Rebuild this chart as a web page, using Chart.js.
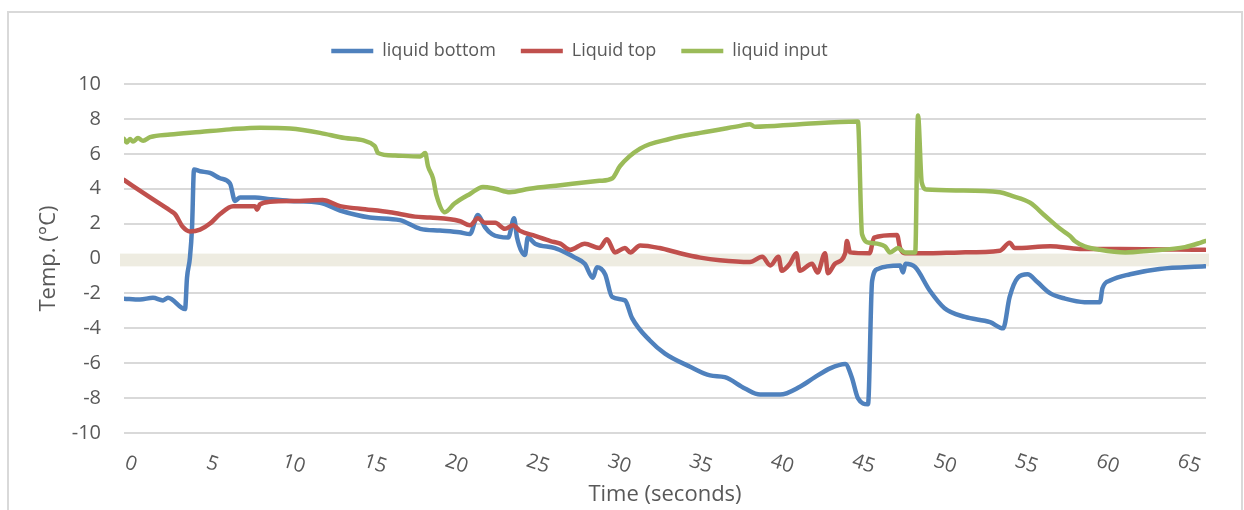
<!DOCTYPE html>
<html>
<head>
<meta charset="utf-8">
<script src="https://cdn.jsdelivr.net/npm/chart.js@4.4.1/dist/chart.umd.min.js"></script>
<style>
  html, body { margin: 0; padding: 0; background: #fff; }
  canvas { display: block; }
</style>
</head>
<body>
<canvas id="temps" width="1244" height="510"></canvas>
<script>
// time (s) and temperature (°C)
const bottomTime = [0, 0.98, 1.78, 2.4, 2.7, 3.75, 3.87, 4.05, 4.18, 4.3, 4.67, 5.28, 5.9, 6.51, 6.82, 7.13, 8.05, 8.97, 10.2, 12.04, 13.27, 15.1, 16.95, 18.2, 19.4, 20.6, 21.25, 21.74, 22.17, 22.6, 23.6, 23.96, 24.14, 24.63, 24.8, 25.25, 26.47, 27.1, 27.7, 28.3, 28.8, 29.05, 29.55, 29.98, 30.77, 31.2, 32.3, 33.23, 34.77, 36.0, 36.9, 38.14, 39.07, 40.3, 41.52, 42.44, 43.37, 44.3, 44.7, 45.08, 45.7, 45.95, 46.3, 47.67, 47.85, 48.0, 48.6, 49.5, 50.4, 51.66, 53.2, 54.0, 54.4, 54.9, 55.5, 56.1, 56.9, 57.8, 59.0, 59.95, 60.1, 60.6, 61.8, 63.6, 66.4];
const bottomTemp = [-2.3, -2.35, -2.25, -2.4, -2.25, -2.9, -1.1, 0.05, 1.8, 5.1, 5.0, 4.9, 4.6, 4.3, 3.3, 3.5, 3.5, 3.4, 3.3, 3.2, 2.75, 2.35, 2.2, 1.7, 1.6, 1.5, 1.4, 2.5, 1.8, 1.4, 1.2, 2.3, 1.2, 0.2, 1.2, 0.85, 0.6, 0.35, 0.05, -0.3, -1.1, -0.5, -0.9, -2.2, -2.4, -3.4, -4.7, -5.45, -6.2, -6.7, -6.8, -7.45, -7.8, -7.8, -7.35, -6.8, -6.3, -6.05, -6.8, -8.0, -8.35, -1.3, -0.6, -0.4, -0.8, -0.3, -0.5, -1.85, -2.85, -3.35, -3.65, -4.0, -2.2, -1.1, -0.9, -1.35, -2.0, -2.3, -2.5, -2.5, -1.7, -1.25, -0.9, -0.6, -0.45];

const topTime = [0, 1.6, 2.83, 3.13, 3.62, 4.05, 4.67, 5.28, 5.9, 6.7, 8.05, 8.17, 8.35, 8.97, 10.8, 12.2, 13.27, 14.5, 16.34, 17.87, 18.8, 20.6, 21.25, 21.74, 22.17, 22.8, 23.4, 23.9, 24.3, 25.25, 26.2, 26.8, 27.4, 28.3, 29.2, 29.67, 30.16, 30.77, 31.1, 31.7, 32.9, 34.15, 35.4, 36.6, 38.45, 39.2, 39.7, 40.2, 40.4, 40.9, 41.3, 41.5, 42.26, 42.6, 43.06, 43.24, 43.67, 44.3, 44.4, 44.6, 45.8, 46.07, 47.48, 47.67, 47.97, 49.5, 51.35, 53.8, 54.4, 54.7, 56.9, 58.7, 61.2, 66.4];
const topTemp = [4.5, 3.5, 2.75, 2.55, 1.8, 1.55, 1.65, 2.0, 2.55, 3.0, 3.0, 2.8, 3.1, 3.25, 3.3, 3.35, 3.0, 2.85, 2.65, 2.4, 2.35, 2.15, 1.9, 2.3, 2.05, 2.05, 1.7, 1.9, 1.6, 1.3, 1.0, 0.85, 0.5, 0.85, 0.6, 1.1, 0.35, 0.6, 0.35, 0.75, 0.6, 0.3, 0.05, -0.1, -0.2, 0.1, -0.4, 0.1, -0.7, -0.3, 0.3, -0.7, -0.3, -0.8, 0.3, -0.85, -0.3, 0.3, 1.0, 0.35, 0.3, 1.2, 1.35, 0.6, 0.3, 0.3, 0.35, 0.45, 0.9, 0.6, 0.7, 0.55, 0.55, 0.5];

const inputTime = [0, 0.18, 0.37, 0.55, 0.86, 1.17, 1.6, 2.83, 4.67, 6.5, 8.35, 10.2, 12.04, 13.57, 15.4, 15.6, 16.65, 18.2, 18.5, 18.67, 18.98, 19.2, 19.7, 20.3, 21.25, 22.05, 22.8, 23.7, 24.9, 26.8, 29.2, 30.0, 30.47, 31.7, 33.5, 35.4, 37.84, 38.45, 38.76, 41.5, 45.08, 45.33, 45.8, 46.74, 47.05, 47.54, 47.97, 48.6, 48.77, 49.0, 49.3, 51.35, 53.8, 54.5, 55.65, 56.57, 57.5, 58.1, 58.4, 59.0, 59.95, 61.5, 63.0, 65.17, 66.1, 66.4];
const inputTemp = [6.85, 6.65, 6.85, 6.7, 6.9, 6.75, 6.95, 7.1, 7.25, 7.4, 7.5, 7.45, 7.2, 6.9, 6.45, 6.05, 5.9, 5.85, 6.05, 5.3, 4.6, 3.6, 2.65, 3.15, 3.7, 4.1, 4.0, 3.8, 4.0, 4.2, 4.45, 4.6, 5.3, 6.3, 6.85, 7.2, 7.6, 7.7, 7.55, 7.7, 7.85, 1.4, 0.9, 0.7, 0.35, 0.6, 0.35, 0.35, 8.2, 4.35, 3.95, 3.9, 3.8, 3.6, 3.2, 2.45, 1.7, 1.3, 1.0, 0.7, 0.5, 0.35, 0.45, 0.65, 0.9, 1.0];

const xTicks = [0, 5, 10, 15, 20, 25, 30, 35, 40, 45, 50, 55, 60, 65];
const zeroBand = [0.28, -0.45]; // shaded band around 0 °C

const toPoints = (ts, vs) => ts.map((t, i) => ({ x: t, y: vs[i] }));

const grey = '#595959';
const font = 'Open Sans';

// frame, white background and the band near 0
const backdrop = {
  id: 'backdrop',
  afterLayout(chart) {
    // excel centres the legend a bit left of the plot
    chart.legend.left -= 27;
    chart.legend.right -= 27;
  },
  beforeDraw(chart) {
    const ctx = chart.ctx;
    ctx.save();
    ctx.fillStyle = '#fff';
    ctx.fillRect(0, 0, chart.width, chart.height);
    ctx.strokeStyle = '#d9d9d9';
    ctx.lineWidth = 2;
    ctx.strokeRect(8, 12, 1234, 520);
    ctx.restore();
  },
  beforeDatasetsDraw(chart) {
    const { ctx, chartArea, scales } = chart;
    const y1 = scales.y.getPixelForValue(zeroBand[0]);
    const y2 = scales.y.getPixelForValue(zeroBand[1]);
    ctx.save();
    ctx.fillStyle = '#eeece1';
    ctx.fillRect(chartArea.left - 4, y1, chartArea.width + 7, y2 - y1);
    ctx.restore();
  }
};

// excel style slanted tick labels on the time axis
const slantTicks = {
  id: 'slantTicks',
  afterDraw(chart) {
    const { ctx, scales } = chart;
    ctx.save();
    ctx.fillStyle = grey;
    ctx.font = '20px "' + font + '"';
    ctx.textAlign = 'center';
    ctx.textBaseline = 'middle';
    xTicks.forEach(t => {
      const px = scales.x.getPixelForValue(t) + 7;
      ctx.save();
      ctx.translate(px, scales.x.top + 31);
      ctx.rotate(18 * Math.PI / 180);
      ctx.fillText(String(t), 0, 0);
      ctx.restore();
    });
    ctx.restore();
  }
};

new Chart(document.getElementById('temps'), {
  type: 'line',
  data: {
    datasets: [
      {
        label: 'liquid bottom',
        data: toPoints(bottomTime, bottomTemp),
        borderColor: '#4f81bd',
        backgroundColor: '#4f81bd',
        borderWidth: 4.5,
        order: 3
      },
      {
        label: 'Liquid top',
        data: toPoints(topTime, topTemp),
        borderColor: '#c0504d',
        backgroundColor: '#c0504d',
        borderWidth: 4.5,
        order: 2
      },
      {
        label: 'liquid input',
        data: toPoints(inputTime, inputTemp),
        borderColor: '#9bbb59',
        backgroundColor: '#9bbb59',
        borderWidth: 4.5,
        order: 1
      }
    ]
  },
  options: {
    responsive: false,
    animation: false,
    events: [],
    layout: { padding: { top: 17, left: 7, right: 38, bottom: 0 } },
    elements: {
      point: { radius: 0 },
      line: { cubicInterpolationMode: 'monotone', borderCapStyle: 'round', borderJoinStyle: 'round' }
    },
    plugins: {
      tooltip: { enabled: false },
      legend: {
        position: 'top',
        labels: {
          usePointStyle: true,
          pointStyle: 'line',
          pointStyleWidth: 42,
          padding: 25,
          color: grey,
          font: { family: font, size: 18 },
          sort: (a, b) => a.datasetIndex - b.datasetIndex
        }
      }
    },
    scales: {
      x: {
        type: 'linear',
        min: 0,
        max: 66.46,
        afterFit: s => { s.height = 77; },
        grid: { display: false },
        border: { display: false },
        ticks: { display: false },
        title: {
          display: true,
          text: 'Time (seconds)',
          color: grey,
          font: { family: font, size: 22 },
          padding: { top: 0, bottom: 2 }
        }
      },
      // empty strip that keeps the plot clear of the legend
      gap: {
        type: 'linear',
        axis: 'x',
        position: 'top',
        afterFit: s => { s.height = 14; },
        grid: { display: false },
        border: { display: false },
        ticks: { display: false }
      },
      y: {
        min: -10,
        max: 10,
        afterFit: s => { s.width = 117; },
        grid: { color: '#d9d9d9', lineWidth: 2, drawTicks: false },
        border: { display: false },
        ticks: {
          stepSize: 2,
          padding: 23,
          color: grey,
          font: { family: font, size: 20 }
        },
        title: {
          display: true,
          text: 'Temp. (°C)',
          color: grey,
          font: { family: font, size: 22 },
          padding: { top: 29, bottom: 0 }
        }
      }
    }
  },
  plugins: [backdrop, slantTicks]
});
</script>
</body>
</html>
